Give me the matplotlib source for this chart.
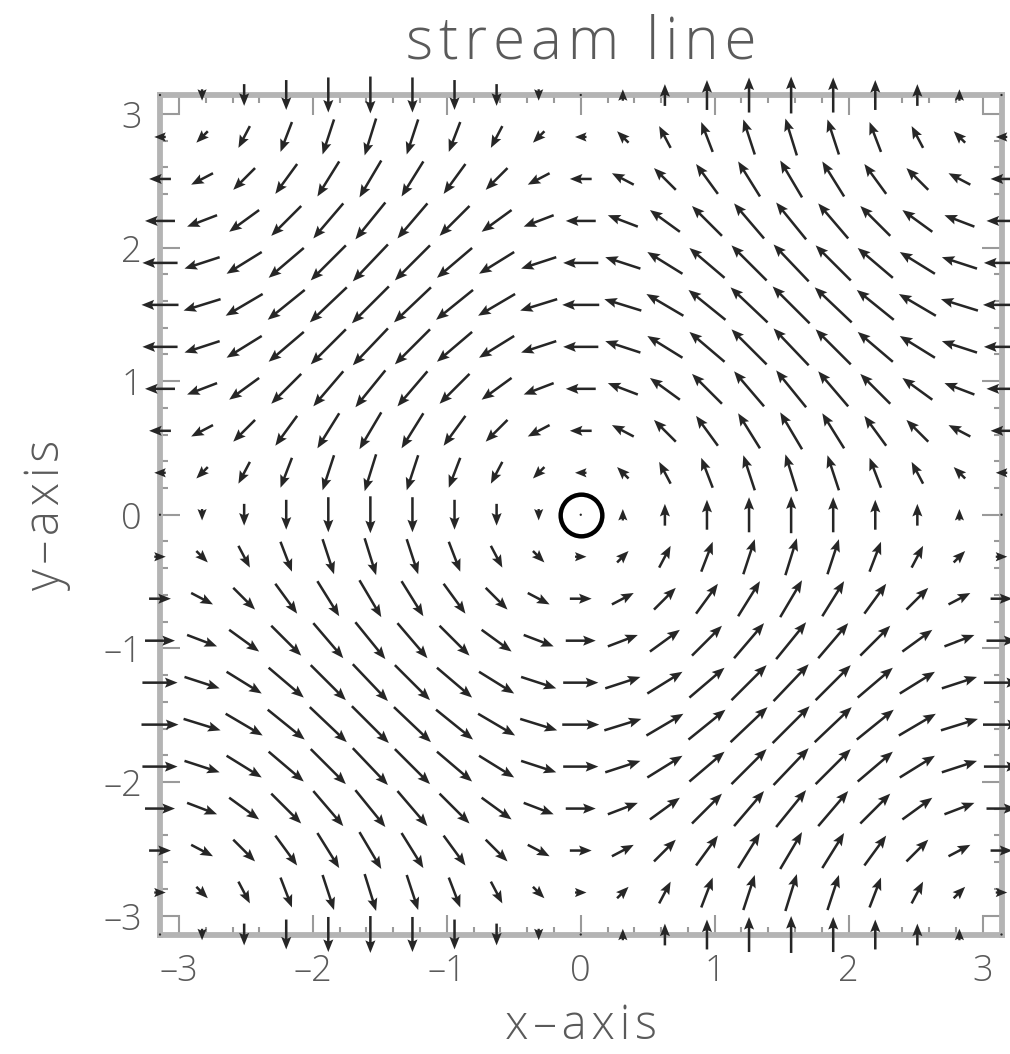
import numpy as np
import matplotlib
matplotlib.use("Agg")
import matplotlib.pyplot as plt
from matplotlib.ticker import MultipleLocator, FuncFormatter

# Grid nodes, in units of pi (21 nodes from -pi to pi)
x_nodes_pi = [-1.0, -0.9, -0.8, -0.7, -0.6, -0.5, -0.4, -0.3, -0.2, -0.1, 0.0,
              0.1, 0.2, 0.3, 0.4, 0.5, 0.6, 0.7, 0.8, 0.9, 1.0]
y_nodes_pi = [-1.0, -0.9, -0.8, -0.7, -0.6, -0.5, -0.4, -0.3, -0.2, -0.1, 0.0,
              0.1, 0.2, 0.3, 0.4, 0.5, 0.6, 0.7, 0.8, 0.9, 1.0]

# Horizontal velocity component per row (varies with y only)
u_by_row = [0.0, 0.31, 0.59, 0.81, 0.95, 1.0, 0.95, 0.81, 0.59, 0.31, 0.0,
            -0.31, -0.59, -0.81, -0.95, -1.0, -0.95, -0.81, -0.59, -0.31, 0.0]
# Vertical velocity component per column (varies with x only)
v_by_col = [0.0, -0.31, -0.59, -0.81, -0.95, -1.0, -0.95, -0.81, -0.59, -0.31, 0.0,
            0.31, 0.59, 0.81, 0.95, 1.0, 0.95, 0.81, 0.59, 0.31, 0.0]

tick_values = [-3, -2, -1, 0, 1, 2, 3]

TEXT = "#5a5a5a"
FRAME = "#b4b4b4"
TICK = "#9a9a9a"
ARROW = "#262626"
DASH = "\u2013"

plt.rcParams["font.family"] = ["Open Sans", "DejaVu Sans"]
plt.rcParams["font.weight"] = "light"


def tracked(s, gap="\u200a"):
    """Spread the letters of a label slightly apart."""
    return gap.join(s)


def tick_fmt(v, pos):
    n = int(round(v))
    return f"{DASH}{abs(n)}" if n < 0 else f"{n}"


fig = plt.figure(figsize=(10.10, 10.54), dpi=100)
ax = fig.add_axes([160 / 1010, 1 - 934.5 / 1054, 841.5 / 1010, 839.5 / 1054])

xs = np.array(x_nodes_pi) * np.pi
ys = np.array(y_nodes_pi) * np.pi
X, Y = np.meshgrid(xs, ys)
U = np.broadcast_to(np.array(u_by_row)[:, None], X.shape)
V = np.broadcast_to(np.array(v_by_col)[None, :], X.shape)

ax.quiver(X, Y, U, V, pivot="middle", angles="xy", scale_units="xy",
          scale=3.62, color=ARROW, width=0.0030, headwidth=4.0,
          headlength=5.0, headaxislength=4.3, clip_on=False, zorder=3)

# origin marker
ax.plot([0], [0], marker="o", ms=30, mfc="none", mec="black", mew=3.2,
        zorder=4, clip_on=False)

lim = np.pi
ax.set_xlim(-lim, lim)
ax.set_ylim(-lim, lim)

ax.set_xticks(tick_values)
ax.set_yticks(tick_values)
ax.xaxis.set_major_formatter(FuncFormatter(tick_fmt))
ax.yaxis.set_major_formatter(FuncFormatter(tick_fmt))
ax.xaxis.set_minor_locator(MultipleLocator(0.2))
ax.yaxis.set_minor_locator(MultipleLocator(0.2))
ax.tick_params(which="both", direction="in", top=True, right=True,
               color=TICK, width=1.5, labelcolor=TEXT, labelsize=26)
ax.tick_params(which="major", length=14.5, pad=13)
ax.tick_params(which="minor", length=6)

for sp in ax.spines.values():
    sp.set_color(FRAME)
    sp.set_linewidth(4.2)

ax.set_title(tracked("stream line"), color=TEXT, fontsize=42,
             fontweight="light", pad=26)
ax.set_xlabel(tracked("x" + DASH + "axis"), color=TEXT, fontsize=34,
              fontweight="light", labelpad=9)
ax.set_ylabel(tracked("y" + DASH + "axis"), color=TEXT, fontsize=34,
              fontweight="light", labelpad=23)

fig.savefig("out.png", dpi=100, facecolor="white")
